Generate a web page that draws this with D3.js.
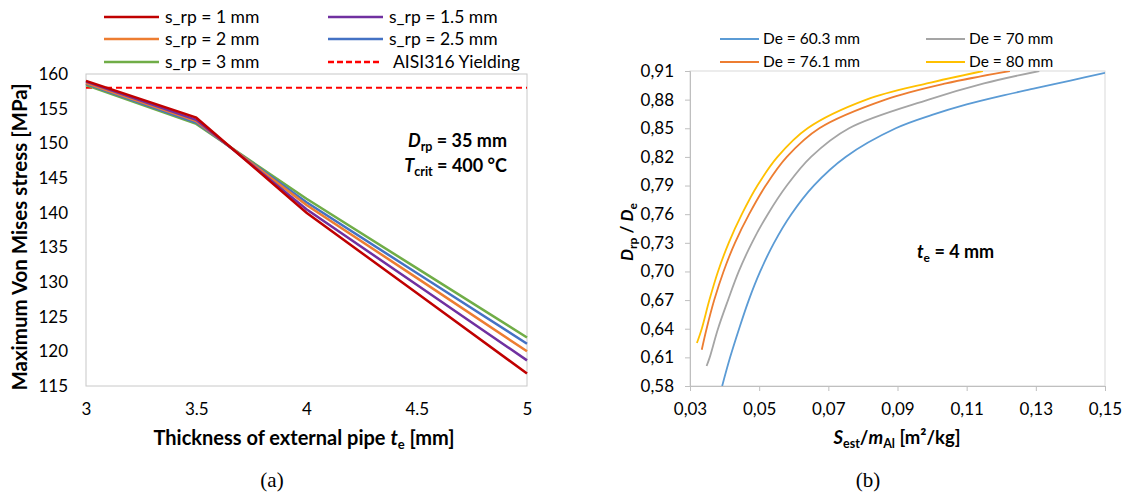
<!DOCTYPE html>
<html>
<head>
<meta charset="utf-8">
<script src="https://cdn.jsdelivr.net/npm/d3@7"></script>
<style>
  body { margin: 0; background: #fff; }
  svg text { font-family: Lato, "Noto Sans", sans-serif; fill: #000; }
</style>
</head>
<body>
<svg id="chart" width="1129" height="495"></svg>
<script>
// ---- Data: panel (a) ----
const thickness = [3, 3.5, 4, 4.5, 5];
const srpLabels = ['s_rp = 1 mm', 's_rp = 1.5 mm', 's_rp = 2 mm', 's_rp = 2.5 mm', 's_rp = 3 mm'];
const srp1 = [159.0, 153.7, 140.0, 128.4, 116.8];
const srp15 = [158.9, 153.4, 140.5, 129.6, 118.7];
const srp2 = [158.7, 153.2, 141.1, 130.6, 120.0];
const srp25 = [158.6, 153.0, 141.5, 131.3, 121.1];
const srp3 = [158.4, 152.8, 142.0, 132.0, 122.0];
const yieldStress = 158;
const stressTicks = [115, 120, 125, 130, 135, 140, 145, 150, 155, 160];
const thickTicks = [3, 3.5, 4, 4.5, 5];

// ---- Data: panel (b) ----
const deLabels = ['De = 60.3 mm', 'De = 70 mm', 'De = 76.1 mm', 'De = 80 mm'];
const de603X = [0.0393, 0.0416, 0.0442, 0.0470, 0.0503, 0.0543, 0.0593, 0.0658, 0.0750, 0.0895, 0.100, 0.110, 0.120, 0.130, 0.140, 0.150];
const de603Y = [0.58, 0.61, 0.64, 0.67, 0.70, 0.73, 0.76, 0.79, 0.82, 0.85, 0.864, 0.875, 0.884, 0.892, 0.900, 0.908];
const de70X = [0.0348, 0.0357, 0.0381, 0.0410, 0.0441, 0.0479, 0.0525, 0.0580, 0.0650, 0.0760, 0.0990, 0.115, 0.131];
const de70Y = [0.601, 0.61, 0.64, 0.67, 0.70, 0.73, 0.76, 0.79, 0.82, 0.85, 0.88, 0.897, 0.91];
const de761X = [0.0334, 0.0348, 0.0370, 0.0397, 0.0430, 0.0471, 0.0519, 0.0580, 0.0674, 0.0865, 0.104, 0.1225];
const de761Y = [0.618, 0.64, 0.67, 0.70, 0.73, 0.76, 0.79, 0.82, 0.85, 0.88, 0.897, 0.91];
const de80X = [0.0320, 0.0334, 0.0356, 0.0381, 0.0412, 0.0450, 0.0495, 0.0553, 0.0640, 0.0810, 0.0985, 0.1147];
const de80Y = [0.625, 0.64, 0.67, 0.70, 0.73, 0.76, 0.79, 0.82, 0.85, 0.88, 0.897, 0.91];
const ratioTicks = [0.58, 0.61, 0.64, 0.67, 0.70, 0.73, 0.76, 0.79, 0.82, 0.85, 0.88, 0.91];
const smTicks = [0.03, 0.05, 0.07, 0.09, 0.11, 0.13, 0.15];

const svg = d3.select('#chart');
const comma = d => d.toFixed(2).replace('.', ',');

// ================= Panel (a) =================
function drawPanelA() {
    const x = d3.scaleLinear().domain([3, 5]).range([86, 527]);
    const y = d3.scaleLinear().domain([115, 160]).range([386, 74]);
    const g = svg.append('g');

    g.append('rect')
        .attr('x', 86).attr('y', 74)
        .attr('width', 441).attr('height', 312)
        .attr('fill', 'none').attr('stroke', '#c8c8c8').attr('stroke-width', 1);

    // y axis labels
    g.append('g')
        .attr('transform', 'translate(86,0)')
        .call(d3.axisLeft(y).tickValues(stressTicks).tickSize(0).tickPadding(18))
        .call(a => a.select('.domain').remove())
        .selectAll('text').style('font-size', '17px').style('font-family', 'Lato');

    // x axis labels
    g.append('g')
        .attr('transform', 'translate(0,386)')
        .call(d3.axisBottom(x).tickValues(thickTicks).tickSize(0).tickPadding(17)
            .tickFormat(d3.format('')))
        .call(a => a.select('.domain').remove())
        .selectAll('text').style('font-size', '17px').style('font-family', 'Lato');

    const series = [
        { v: srp1, c: '#c00000' },
        { v: srp15, c: '#7030a0' },
        { v: srp2, c: '#ed7d31' },
        { v: srp25, c: '#4472c4' },
        { v: srp3, c: '#70ad47' }
    ];

    // yielding line
    g.append('line')
        .attr('x1', x(3)).attr('x2', x(5))
        .attr('y1', y(yieldStress)).attr('y2', y(yieldStress))
        .attr('stroke', '#ff0000').attr('stroke-width', 2).attr('stroke-dasharray', '6,4');

    const line = d3.line().x((d, i) => x(thickness[i])).y(d => y(d));
    series.slice().reverse().forEach(s => {
        g.append('path')
            .attr('d', line(s.v))
            .attr('fill', 'none')
            .attr('stroke', s.c)
            .attr('stroke-width', 2.5);
    });

    // legend
    const legendItems = [
        { t: srpLabels[0], c: '#c00000', x: 104, y: 17 },
        { t: srpLabels[1], c: '#7030a0', x: 328, y: 17 },
        { t: srpLabels[2], c: '#ed7d31', x: 104, y: 39 },
        { t: srpLabels[3], c: '#4472c4', x: 328, y: 39 },
        { t: srpLabels[4], c: '#70ad47', x: 104, y: 62 },
        { t: 'AISI316 Yielding', c: '#ff0000', x: 328, y: 62, dash: true }
    ];
    legendItems.forEach(d => {
        g.append('line')
            .attr('x1', d.x).attr('x2', d.x + (d.dash ? 51 : 55))
            .attr('y1', d.y).attr('y2', d.y)
            .attr('stroke', d.c).attr('stroke-width', 2.5)
            .attr('stroke-dasharray', d.dash ? '6,3' : null);
        g.append('text')
            .attr('x', d.x + (d.dash ? 65 : 61)).attr('y', d.y)
            .attr('dy', '0.35em')
            .style('font-size', '17.5px')
            .text(d.t);
    });

    // annotation
    const ann = g.append('text').attr('x', 507).attr('y', 147)
        .attr('text-anchor', 'end').style('font-size', '18px').style('font-weight', 'bold');
    ann.append('tspan').style('font-style', 'italic').text('D');
    ann.append('tspan').attr('dy', 4).style('font-size', '12.5px').text('rp');
    ann.append('tspan').attr('dy', -4).text(' = 35 mm');
    const ann2 = g.append('text').attr('x', 507).attr('y', 172)
        .attr('text-anchor', 'end').style('font-size', '18px').style('font-weight', 'bold');
    ann2.append('tspan').style('font-style', 'italic').text('T');
    ann2.append('tspan').attr('dy', 4).style('font-size', '12.5px').text('crit');
    ann2.append('tspan').attr('dy', -4).text(' = 400 °C');

    // axis titles
    g.append('text')
        .attr('transform', 'translate(27,237) rotate(-90)')
        .attr('text-anchor', 'middle')
        .style('font-size', '20.5px').style('font-weight', 'bold')
        .text('Maximum Von Mises stress [MPa]');

    const xt = g.append('text').attr('x', 304).attr('y', 445)
        .attr('text-anchor', 'middle').style('font-size', '20px').style('font-weight', 'bold');
    xt.append('tspan').text('Thickness of external pipe ');
    xt.append('tspan').style('font-style', 'italic').text('t');
    xt.append('tspan').attr('dy', 4).style('font-size', '13px').text('e');
    xt.append('tspan').attr('dy', -4).text(' [mm]');

    g.append('text').attr('x', 272).attr('y', 487)
        .attr('text-anchor', 'middle')
        .style('font-family', '"Liberation Serif", serif').style('font-size', '21px')
        .text('(a)');
}

// ================= Panel (b) =================
function drawPanelB() {
    const x = d3.scaleLinear().domain([0.03, 0.15]).range([690, 1105]);
    const y = d3.scaleLinear().domain([0.58, 0.91]).range([386, 71]);
    const g = svg.append('g');

    // plot border
    g.append('rect')
        .attr('x', 690).attr('y', 71)
        .attr('width', 415).attr('height', 315)
        .attr('fill', 'none').attr('stroke', '#d9d9d9').attr('stroke-width', 1);

    const yAxis = g.append('g')
        .attr('transform', 'translate(690,0)')
        .call(d3.axisLeft(y).tickValues(ratioTicks).tickSize(5).tickPadding(11).tickFormat(comma));
    const xAxis = g.append('g')
        .attr('transform', 'translate(0,386)')
        .call(d3.axisBottom(x).tickValues(smTicks).tickSize(5).tickPadding(12).tickFormat(comma));
    [yAxis, xAxis].forEach(a => {
        a.selectAll('.domain, line').attr('stroke', '#bfbfbf');
        a.selectAll('text').style('font-size', '17px').style('font-family', 'Lato');
    });

    g.append('clipPath').attr('id', 'clipB')
        .append('rect').attr('x', 690).attr('y', 71).attr('width', 415).attr('height', 315);

    const series = [
        { xs: de603X, ys: de603Y, c: '#5b9bd5' },
        { xs: de70X, ys: de70Y, c: '#a5a5a5' },
        { xs: de761X, ys: de761Y, c: '#ed7d31' },
        { xs: de80X, ys: de80Y, c: '#ffc000' }
    ];
    series.forEach(s => {
        const line = d3.line()
            .x((d, i) => x(s.xs[i]))
            .y(d => y(d))
            .curve(d3.curveCatmullRom.alpha(0.5));
        g.append('path')
            .attr('clip-path', 'url(#clipB)')
            .attr('d', line(s.ys))
            .attr('fill', 'none')
            .attr('stroke', s.c)
            .attr('stroke-width', 1.8);
    });

    // legend
    const legendItems = [
        { t: deLabels[0], c: '#5b9bd5', x: 720, y: 39 },
        { t: deLabels[1], c: '#a5a5a5', x: 926, y: 39 },
        { t: deLabels[2], c: '#ed7d31', x: 720, y: 62 },
        { t: deLabels[3], c: '#ffc000', x: 926, y: 62 }
    ];
    legendItems.forEach(d => {
        g.append('line')
            .attr('x1', d.x).attr('x2', d.x + 39)
            .attr('y1', d.y).attr('y2', d.y)
            .attr('stroke', d.c).attr('stroke-width', 2);
        g.append('text')
            .attr('x', d.x + 43).attr('y', d.y)
            .attr('dy', '0.35em')
            .style('font-size', '15.5px')
            .text(d.t);
    });

    // annotation
    const ann = g.append('text').attr('x', 917).attr('y', 258)
        .style('font-size', '18px').style('font-weight', 'bold');
    ann.append('tspan').style('font-style', 'italic').text('t');
    ann.append('tspan').attr('dy', 4).style('font-size', '12px').text('e');
    ann.append('tspan').attr('dy', -4).text(' = 4 mm');

    // axis titles
    const yt = g.append('text')
        .attr('transform', 'translate(633,232) rotate(-90)')
        .attr('text-anchor', 'middle')
        .style('font-size', '17px').style('font-weight', 'bold');
    yt.append('tspan').style('font-style', 'italic').text('D');
    yt.append('tspan').attr('dy', 4).style('font-size', '12px').text('rp');
    yt.append('tspan').attr('dy', -4).text(' / ');
    yt.append('tspan').style('font-style', 'italic').text('D');
    yt.append('tspan').attr('dy', 4).style('font-size', '12px').text('e');

    const xt = g.append('text').attr('x', 897).attr('y', 444)
        .attr('text-anchor', 'middle').style('font-size', '18.5px').style('font-weight', 'bold');
    xt.append('tspan').style('font-style', 'italic').text('S');
    xt.append('tspan').attr('dy', 4).style('font-size', '12.5px').text('est');
    xt.append('tspan').attr('dy', -4).text('/');
    xt.append('tspan').style('font-style', 'italic').text('m');
    xt.append('tspan').attr('dy', 4).style('font-size', '12.5px').text('Al');
    xt.append('tspan').attr('dy', -4).text(' [m²/kg]');

    g.append('text').attr('x', 868).attr('y', 487)
        .attr('text-anchor', 'middle')
        .style('font-family', '"Liberation Serif", serif').style('font-size', '21px')
        .text('(b)');
}

drawPanelA();
drawPanelB();
</script>
</body>
</html>
